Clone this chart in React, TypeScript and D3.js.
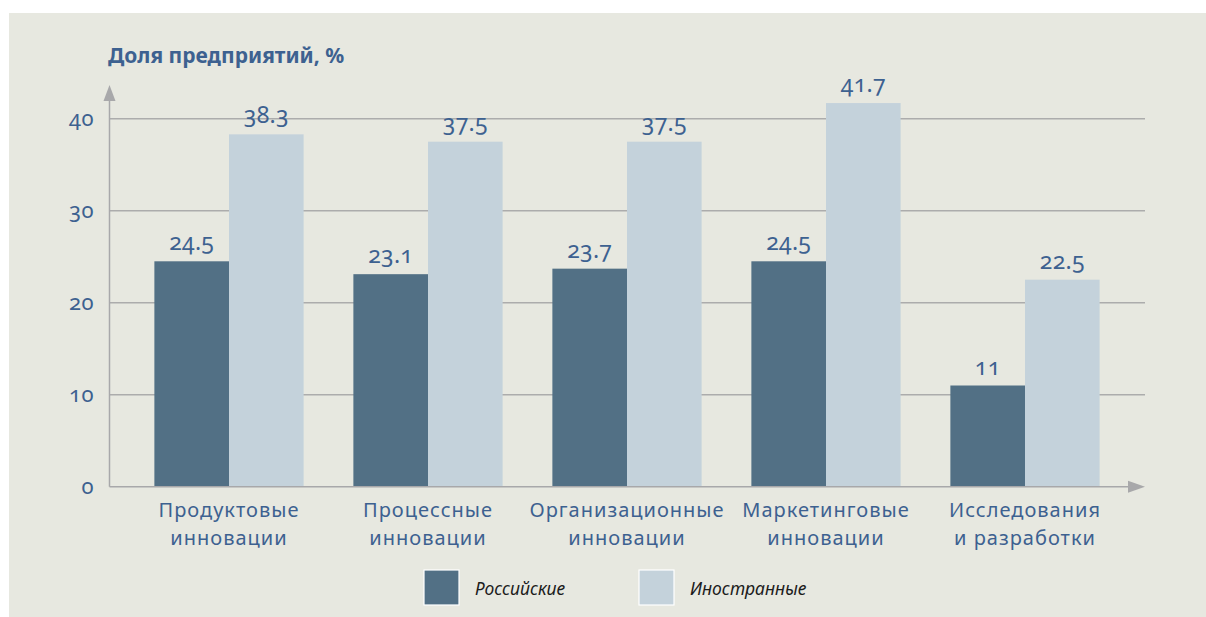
import React from "react";
import * as d3 from "d3";

const categories = [
  ["Продуктовые", "инновации"],
  ["Процессные", "инновации"],
  ["Организационные", "инновации"],
  ["Маркетинговые", "инновации"],
  ["Исследования", "и разработки"],
];
const russian = [24.5, 23.1, 23.7, 24.5, 11];
const foreign = [38.3, 37.5, 37.5, 41.7, 22.5];
const yTicks = [0, 10, 20, 30, 40];
const seriesNames = ["Российские", "Иностранные"];
const valueLabels = [
  ["24.5", "23.1", "23.7", "24.5", "11"],
  ["38.3", "37.5", "37.5", "41.7", "22.5"],
];
const title = "Доля предприятий, %";

const W = 1206;
const H = 617;
const BG = "#e7e8e0";
const DARK = "#527085";
const LIGHT = "#c4d2db";
const TEXT = "#3d6190";
const GRID = "#acacac";
const AXIS = "#a8a8aa";
const FONT = "'Noto Sans', 'Open Sans', sans-serif";

export default function App() {
  const x0 = 109.5;
  const baseY = 486.7;
  const y = d3.scaleLinear().domain([0, 40]).range([baseY, baseY - 368]);
  const xBand = d3
    .scaleBand<number>()
    .domain(d3.range(categories.length))
    .range([129.5, 1124.5])
    .paddingInner(0.25)
    .paddingOuter(0.125);
  const xSub = d3
    .scaleBand<number>()
    .domain([0, 1])
    .range([0, xBand.bandwidth()]);
  const series = [russian, foreign];
  const colors = [DARK, LIGHT];
  const gridRight = 1145;

  return (
    <svg
      width={W}
      height={H}
      style={{ position: "absolute", left: 0, top: 0, display: "block" }}
    >
      <rect x={0} y={0} width={W} height={H} fill="#ffffff" />
      <rect x={9} y={13} width={W - 9} height={H - 13} fill={BG} />
      <text
        x={108}
        y={63}
        fill={TEXT}
        fontFamily={FONT}
        fontWeight={700}
        fontSize={21}
      >
        {title}
      </text>
      {/* gridlines */}
      {yTicks
        .filter((t) => t > 0)
        .map((t) => (
          <line
            key={t}
            x1={x0}
            x2={gridRight}
            y1={y(t)}
            y2={y(t)}
            stroke={GRID}
            strokeWidth={1.5}
          />
        ))}
      {/* y tick labels */}
      {yTicks.map((t) => (
        <text
          key={t}
          x={94}
          y={y(t) + 7}
          textAnchor="end"
          fill={TEXT}
          fontFamily={FONT}
          fontSize={22}
          letterSpacing={0.5}
          style={{ fontVariantNumeric: "oldstyle-nums" }}
        >
          {t}
        </text>
      ))}
      {/* bars */}
      {categories.map((_, i) =>
        series.map((s, j) => {
          const bx = (xBand(i) as number) + (xSub(j) as number);
          return (
            <rect
              key={`${i}-${j}`}
              x={bx}
              y={y(s[i])}
              width={xSub.bandwidth()}
              height={baseY - y(s[i])}
              fill={colors[j]}
            />
          );
        })
      )}
      {/* value labels */}
      {categories.map((_, i) =>
        series.map((s, j) => {
          const cx =
            (xBand(i) as number) + (xSub(j) as number) + xSub.bandwidth() / 2;
          return (
            <text
              key={`v-${i}-${j}`}
              x={cx}
              y={y(s[i]) - 11}
              textAnchor="middle"
              fill={TEXT}
              fontFamily={FONT}
              fontSize={23}
              letterSpacing={0.3}
              style={{ fontVariantNumeric: "oldstyle-nums" }}
            >
              {valueLabels[j][i]}
            </text>
          );
        })
      )}
      {/* axes */}
      <line x1={x0} x2={x0} y1={baseY} y2={98} stroke={AXIS} strokeWidth={1.5} />
      <path
        d={`M${x0},85 L${x0 + 6},101 L${x0 - 6},101 Z`}
        fill={AXIS}
      />
      <line
        x1={x0}
        x2={1132}
        y1={baseY}
        y2={baseY}
        stroke={AXIS}
        strokeWidth={1.5}
      />
      <path
        d={`M1145,${baseY} L1128,${baseY - 6} L1128,${baseY + 6} Z`}
        fill={AXIS}
      />
      {/* category labels */}
      {categories.map((c, i) => {
        const cx = (xBand(i) as number) + xBand.bandwidth() / 2;
        return (
          <text
            key={`c-${i}`}
            textAnchor="middle"
            fill={TEXT}
            fontFamily={FONT}
            fontSize={20}
            letterSpacing={1}
          >
            <tspan x={cx} y={517}>
              {c[0]}
            </tspan>
            <tspan x={cx} y={545}>
              {c[1]}
            </tspan>
          </text>
        );
      })}
      {/* legend */}
      {seriesNames.map((n, j) => {
        const lx = [424, 639][j];
        return (
          <g key={n}>
            <rect
              x={lx}
              y={570}
              width={35}
              height={35}
              fill={colors[j]}
              stroke="#ffffff"
              strokeWidth={1.2}
            />
            <text
              x={lx + 51}
              y={595}
              fill="#1c1c1c"
              fontFamily={FONT}
              fontStyle="italic"
              fontSize={17.5}
            >
              {n}
            </text>
          </g>
        );
      })}
    </svg>
  );
}
